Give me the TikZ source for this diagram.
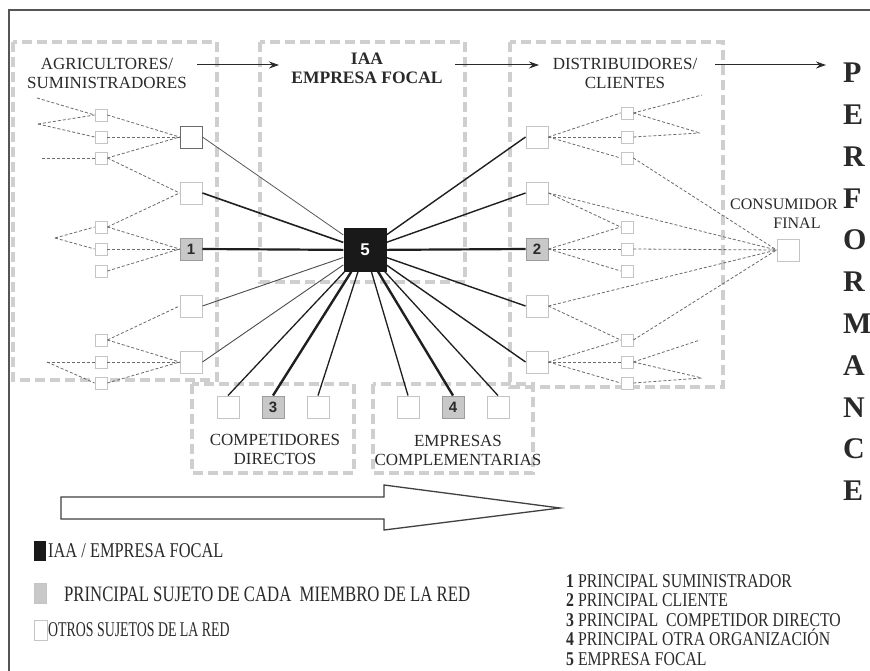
\documentclass[tikz,border=0pt]{standalone}
\usepackage{fontspec}
\setmainfont{Liberation Serif}
\newfontfamily\condserif[FakeStretch=0.81]{Liberation Serif}
\newfontfamily\keyserifA[FakeStretch=0.78]{Liberation Serif}
\newfontfamily\keyserifB[FakeStretch=0.76]{Liberation Serif}
\newfontfamily\keyserifC[FakeStretch=0.66]{Liberation Serif}
\newfontfamily\labelsans{Liberation Sans}
\usetikzlibrary{arrows.meta}
\definecolor{framegray}{HTML}{555555}
\definecolor{grpgray}{HTML}{CFCFCF}
\definecolor{boxgray}{HTML}{C4C4C4}
\definecolor{darkedge}{HTML}{6A6A6A}
\definecolor{keyfill}{HTML}{C8C8C8}
\definecolor{keyedge}{HTML}{9C9C9C}
\definecolor{linkgray}{HTML}{6A6A6A}
\definecolor{inkgray}{HTML}{2A2A2A}
\begin{document}
\begin{tikzpicture}[x=1pt,y=-1pt,
  bigbox/.style={draw=boxgray, fill=white, line width=0.9, minimum size=22, inner sep=0},
  smallbox/.style={draw=boxgray, fill=white, line width=0.8, minimum size=12, inner sep=0},
  keybox/.style={draw=keyedge, fill=keyfill, line width=0.9, minimum size=22, inner sep=0,
    font=\labelsans\bfseries\fontsize{15}{15}\selectfont, text=inkgray},
  focal/.style={fill=black!90, minimum size=43, inner sep=0,
    font=\labelsans\bfseries\fontsize{17}{17}\selectfont, text=white},
  group/.style={draw=grpgray, line width=4.5, dash pattern=on 10 off 5},
  link/.style={draw=linkgray, line width=0.8, dash pattern=on 3 off 2},
  tie/.style={draw=black!88, line width=1.4},
  flow/.style={-{Stealth[length=10,width=7]}, line width=1, draw=inkgray},
  lbl/.style={font=\fontsize{17}{19}\selectfont, align=center, text=inkgray, inner sep=0},
  perf/.style={font=\bfseries\fontsize{30}{30}\selectfont, text=inkgray, anchor=west, inner sep=0},
  keytext/.style={font=\condserif\fontsize{19.5}{20}\selectfont, text=inkgray, anchor=west, inner sep=0},
  numkey/.style={keytext, anchor=base west}
]
\useasboundingbox (0,0) rectangle (870,671);
\fill[white] (0,0) rectangle (870,671);
% outer frame, open to the right and bottom
\draw[framegray, line width=2] (875,10) -- (9,10) -- (9,676);

% dashed group outlines
\draw[group] (13,42) rectangle (217,380);
\draw[group] (260,42) rectangle (465,282);
\draw[group] (510,42) rectangle (723,387);
\draw[group] (192,384) rectangle (354,473);
\draw[group] (373,384) rectangle (533,473);

% group titles
\node[lbl] (agri) at (107,73) {AGRICULTORES/\\SUMINISTRADORES};
\node[lbl, font=\bfseries\fontsize{17.5}{19}\selectfont] (iaa) at (367,68) {IAA\\EMPRESA FOCAL};
\node[lbl] (dist) at (625,73) {DISTRIBUIDORES/\\CLIENTES};
\node[lbl, font=\fontsize{16}{16}\selectfont, anchor=east] (cons1) at (838,204) {CONSUMIDOR};
\node[lbl, font=\fontsize{16}{16}\selectfont] (cons2) at (797,223) {FINAL};
\node[lbl] (comp) at (275,449) {COMPETIDORES\\DIRECTOS};
\node[lbl] (compl) at (458,450) {EMPRESAS\\COMPLEMENTARIAS};

% flow arrows along the chain
\coordinate (f1a) at (197,65); \coordinate (f1b) at (279,65);
\coordinate (f2a) at (455,65); \coordinate (f2b) at (539,65);
\coordinate (f3a) at (715,65); \coordinate (f3b) at (826,65);
\draw[flow] (f1a) -- (f1b);
\draw[flow] (f2a) -- (f2b);
\draw[flow] (f3a) -- (f3b);

% PERFORMANCE, one letter per line
\foreach \ch [count=\i from 0] in {P,E,R,F,O,R,M,A,N,C,E}
  \node[perf] (perf\i) at (843,{73+41.8*\i}) {\ch};

% suppliers column
\node[bigbox, draw=darkedge] (L1) at (191,137) {};
\node[bigbox] (L2) at (191,193) {};
\node[keybox] (L3) at (191,249) {1};
\node[bigbox] (L4) at (191,306) {};
\node[bigbox] (L5) at (191,362) {};
\foreach \n/\y in {1/115,2/137,3/158,4/227,5/249,6/271,7/340,8/362,9/383}
  \node[smallbox] (sL\n) at (101,\y) {};

% customers column
\node[bigbox] (R1) at (537,137) {};
\node[bigbox] (R2) at (537,193) {};
\node[keybox] (R3) at (537,249) {2};
\node[bigbox] (R4) at (537,306) {};
\node[bigbox] (R5) at (537,362) {};
\foreach \n/\y in {1/113,2/137,3/158,4/227,5/249,6/271,7/340,8/362,9/383}
  \node[smallbox] (sR\n) at (627,\y) {};

% final consumer
\node[bigbox] (fin) at (788,250) {};

% competitors and complementary firms
\node[bigbox] (C1) at (228,407) {};
\node[keybox] (C3) at (273,407) {3};
\node[bigbox] (C2) at (318,407) {};
\node[bigbox] (E1) at (408,407) {};
\node[keybox] (E4) at (453,407) {4};
\node[bigbox] (E2) at (498,407) {};

% focal firm
\node[focal] (F) at (365,250) {5};

% loose ends of the outer tiers
\coordinate (la) at (37,98);
\coordinate (lb) at (38,124);
\coordinate (lc) at (42,158);
\coordinate (ld) at (55,238);
\coordinate (le) at (47,362);
\coordinate (ra) at (702,95);
\coordinate (rb) at (700,133);
\coordinate (rc) at (700,340);
\coordinate (rd) at (702,378);

% supplier tiers
\draw[link] (la) -- (sL1.west);
\draw[link] (lb) -- (sL1.west);
\draw[link] (lb) -- (sL2.west);
\draw[link] (lc) -- (sL3.west);
\draw[link] (sL1.east) -- (L1.west);
\draw[link] (sL2.east) -- (L1.west);
\draw[link] (sL3.east) -- (L1.west);
\draw[link] (sL3.east) -- (L2.west);
\draw[link] (ld) -- (sL4.west);
\draw[link] (ld) -- (sL5.west);
\draw[link] (sL4.east) -- (L2.west);
\draw[link] (sL4.east) -- (L3.west);
\draw[link] (sL5.east) -- (L3.west);
\draw[link] (sL6.east) -- (L3.west);
\draw[link] (sL7.east) -- (L4.west);
\draw[link] (sL7.east) -- (L5.west);
\draw[link] (sL8.east) -- (L5.west);
\draw[link] (sL9.east) -- (L5.west);
\draw[link] (le) -- (sL8.west);
\draw[link] (le) -- (sL9.west);

% customer tiers
\draw[link] (R1.east) -- (sR1.west);
\draw[link] (R1.east) -- (sR2.west);
\draw[link] (R1.east) -- (sR3.west);
\draw[link] (sR1.east) -- (ra);
\draw[link] (sR1.east) -- (rb);
\draw[link] (sR2.east) -- (rb);
\draw[link] (sR3.east) -- (fin.west);
\draw[link] (R2.east) -- (fin.west);
\draw[link] (R2.east) -- (sR4.west);
\draw[link] (R3.east) -- (sR4.west);
\draw[link] (R3.east) -- (sR5.west);
\draw[link] (R3.east) -- (sR6.west);
\draw[link] (sR5.east) -- (fin.west);
\draw[link] (R4.east) -- (fin.west);
\draw[link] (R4.east) -- (sR7.west);
\draw[link] (R5.east) -- (sR7.west);
\draw[link] (R5.east) -- (sR8.west);
\draw[link] (R5.east) -- (sR9.west);
\draw[link] (sR7.east) -- (fin.west);
\draw[link] (sR8.east) -- (rc);
\draw[link] (sR8.east) -- (rd);
\draw[link] (sR9.east) -- (rd);

% ties of the focal firm
\draw[tie, line width=0.8, draw=black!65] (F) -- (L1.east);
\draw[tie, line width=1.6] (F) -- (L2.east);
\draw[tie, line width=2.2] (F) -- (L3.east);
\draw[tie, line width=0.9, draw=black!70] (F) -- (L4.east);
\draw[tie, line width=0.9, draw=black!70] (F) -- (L5.east);
\draw[tie] (F) -- (R1.west);
\draw[tie] (F) -- (R2.west);
\draw[tie, line width=2.2] (F) -- (R3.west);
\draw[tie] (F) -- (R4.west);
\draw[tie] (F) -- (R5.west);
\draw[tie, line width=1.3] (F) -- (C1.north);
\draw[tie, line width=2.4] (F) -- (C3.north);
\draw[tie, line width=1.3] (F) -- (C2.north);
\draw[tie, line width=1.3] (F) -- (E1.north);
\draw[tie, line width=2.4] (F) -- (E4.north);
\draw[tie, line width=1.3] (F) -- (E2.north);

% broad hollow arrow
\draw[line width=1.3, draw=black!75, fill=white]
  (61,497) -- (384,497) -- (384,485) -- (560,508) -- (384,530) -- (384,519) -- (61,519) -- cycle;

% legend, left
\fill[black!90] (34,541) rectangle (46,561);
\node[keytext, font=\keyserifA\fontsize{21}{21}\selectfont] (k1) at (48,551) {IAA / EMPRESA FOCAL};
\filldraw[fill=keyfill, draw=boxgray] (34,583) rectangle (46,603);
\node[keytext, font=\keyserifB\fontsize{22}{22}\selectfont] (k2) at (64,594) {PRINCIPAL SUJETO DE CADA\ \ MIEMBRO DE LA RED};
\draw[boxgray, line width=0.9] (34,620) rectangle (47,640);
\node[keytext, font=\keyserifC\fontsize{21}{21}\selectfont] (k3) at (48,630) {OTROS SUJETOS DE LA RED};

% legend, right (baseline aligned)
\node[numkey] (n1) at (566,587) {\textbf{1} PRINCIPAL SUMINISTRADOR};
\node[numkey] (n2) at (566,606.5) {\textbf{2} PRINCIPAL CLIENTE};
\node[numkey] (n3) at (566,626) {\textbf{3} PRINCIPAL\ \ COMPETIDOR DIRECTO};
\node[numkey] (n4) at (566,645.5) {\textbf{4} PRINCIPAL OTRA ORGANIZACIÓN};
\node[numkey] (n5) at (566,665) {\textbf{5} EMPRESA FOCAL};
\end{tikzpicture}
\end{document}
